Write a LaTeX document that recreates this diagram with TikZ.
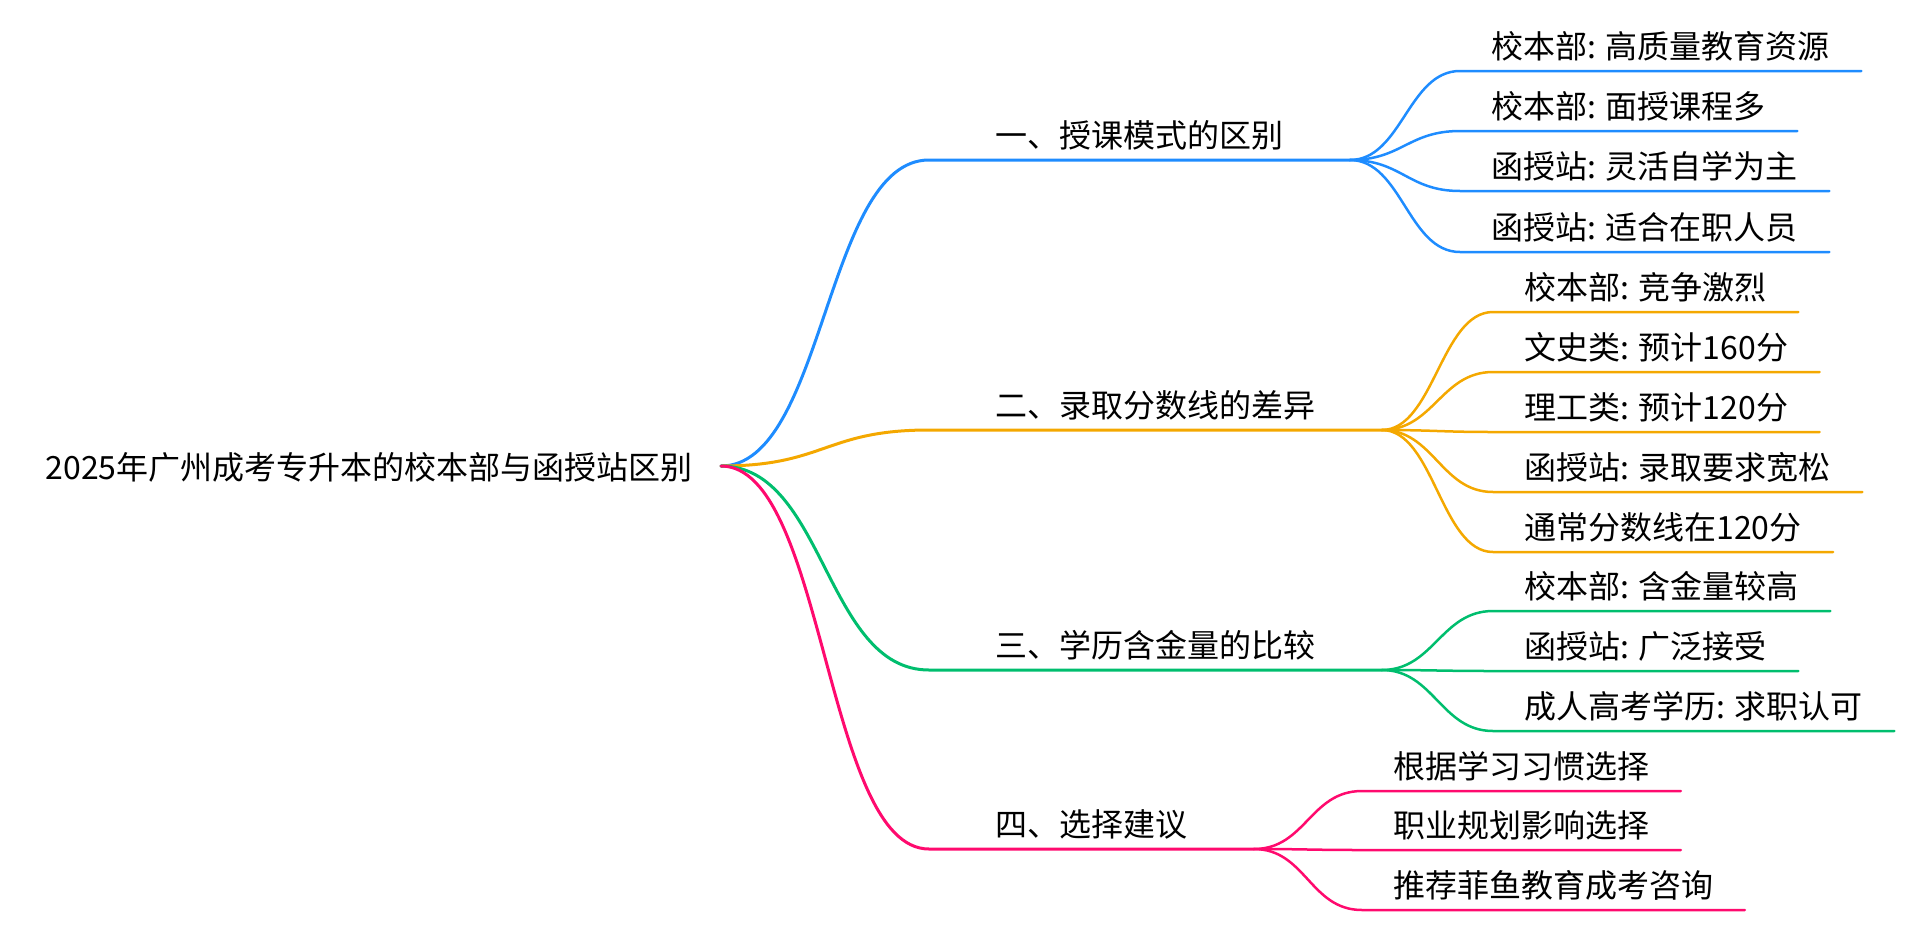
\documentclass[tikz,border=0pt]{standalone}
\usepackage{fontspec}
\setmainfont{Noto Sans CJK SC}
\usepackage{xcolor}
\usetikzlibrary{positioning}

\definecolor{mmblue}{HTML}{1E8CFF}
\definecolor{mmorange}{HTML}{F4A800}
\definecolor{mmgreen}{HTML}{00BE6E}
\definecolor{mmpink}{HTML}{FF0A6E}

\begin{document}
\begin{tikzpicture}[x=0.5pt,y=-0.5pt,
    mm/.style={anchor=south west, inner ysep=6pt, text depth=0pt, font=\fontsize{16}{19}\selectfont},
    rootnode/.style={mm, anchor=east, inner xsep=14pt, inner ysep=0pt},
    topic/.style={mm, inner xsep=33pt},
    leaf/.style={mm, inner xsep=15.5pt},
    main/.style={line width=1.5pt, line cap=round},
    sub/.style={line width=1.25pt, line cap=round}]
    \useasboundingbox (0,0) rectangle (1916,932);

    \node[rootnode] (root) at (721,466) {2025年广州成考专升本的校本部与函授站区别};

    \node[topic] (t1) at (929,160) {一、授课模式的区别};
    \node[topic] (t2) at (929,430) {二、录取分数线的差异};
    \node[topic] (t3) at (929,670) {三、学历含金量的比较};
    \node[topic] (t4) at (929,849) {四、选择建议};

    \node[leaf] (a1) at (1460,71) {校本部: 高质量教育资源};
    \node[leaf] (a2) at (1460,131) {校本部: 面授课程多};
    \node[leaf] (a3) at (1460,191) {函授站: 灵活自学为主};
    \node[leaf] (a4) at (1460,252) {函授站: 适合在职人员};

    \node[leaf] (b1) at (1493,312) {校本部: 竞争激烈};
    \node[leaf] (b2) at (1493,372) {文史类: 预计160分};
    \node[leaf] (b3) at (1493,432) {理工类: 预计120分};
    \node[leaf] (b4) at (1493,492) {函授站: 录取要求宽松};
    \node[leaf] (b5) at (1493,552) {通常分数线在120分};

    \node[leaf] (c1) at (1493,611) {校本部: 含金量较高};
    \node[leaf] (c2) at (1493,671) {函授站: 广泛接受};
    \node[leaf] (c3) at (1493,731) {成人高考学历: 求职认可};

    \node[leaf] (d1) at (1362,791) {根据学习习惯选择};
    \node[leaf] (d2) at (1362,850) {职业规划影响选择};
    \node[leaf] (d3) at (1362,910) {推荐菲鱼教育成考咨询};

    % main branches
    \draw[main,mmblue] (root.east) .. controls +(104,0) and +(-104,0) .. (t1.south west) -- (t1.south east);
    \draw[main,mmorange] (root.east) .. controls +(104,0) and +(-104,0) .. (t2.south west) -- (t2.south east);
    \draw[main,mmgreen] (root.east) .. controls +(104,0) and +(-104,0) .. (t3.south west) -- (t3.south east);
    \draw[main,mmpink] (root.east) .. controls +(104,0) and +(-104,0) .. (t4.south west) -- (t4.south east);

    % leaves
    \draw[sub,mmblue] (t1.south east) .. controls +(52,0) and +(-52,0) .. (a1.south west) -- (a1.south east);
    \draw[sub,mmblue] (t1.south east) .. controls +(52,0) and +(-52,0) .. (a2.south west) -- (a2.south east);
    \draw[sub,mmblue] (t1.south east) .. controls +(52,0) and +(-52,0) .. (a3.south west) -- (a3.south east);
    \draw[sub,mmblue] (t1.south east) .. controls +(52,0) and +(-52,0) .. (a4.south west) -- (a4.south east);

    \draw[sub,mmorange] (t2.south east) .. controls +(52,0) and +(-52,0) .. (b1.south west) -- (b1.south east);
    \draw[sub,mmorange] (t2.south east) .. controls +(52,0) and +(-52,0) .. (b2.south west) -- (b2.south east);
    \draw[sub,mmorange] (t2.south east) .. controls +(52,0) and +(-52,0) .. (b3.south west) -- (b3.south east);
    \draw[sub,mmorange] (t2.south east) .. controls +(52,0) and +(-52,0) .. (b4.south west) -- (b4.south east);
    \draw[sub,mmorange] (t2.south east) .. controls +(52,0) and +(-52,0) .. (b5.south west) -- (b5.south east);

    \draw[sub,mmgreen] (t3.south east) .. controls +(52,0) and +(-52,0) .. (c1.south west) -- (c1.south east);
    \draw[sub,mmgreen] (t3.south east) .. controls +(52,0) and +(-52,0) .. (c2.south west) -- (c2.south east);
    \draw[sub,mmgreen] (t3.south east) .. controls +(52,0) and +(-52,0) .. (c3.south west) -- (c3.south east);

    \draw[sub,mmpink] (t4.south east) .. controls +(52,0) and +(-52,0) .. (d1.south west) -- (d1.south east);
    \draw[sub,mmpink] (t4.south east) .. controls +(52,0) and +(-52,0) .. (d2.south west) -- (d2.south east);
    \draw[sub,mmpink] (t4.south east) .. controls +(52,0) and +(-52,0) .. (d3.south west) -- (d3.south east);
  \end{tikzpicture}
\end{document}
